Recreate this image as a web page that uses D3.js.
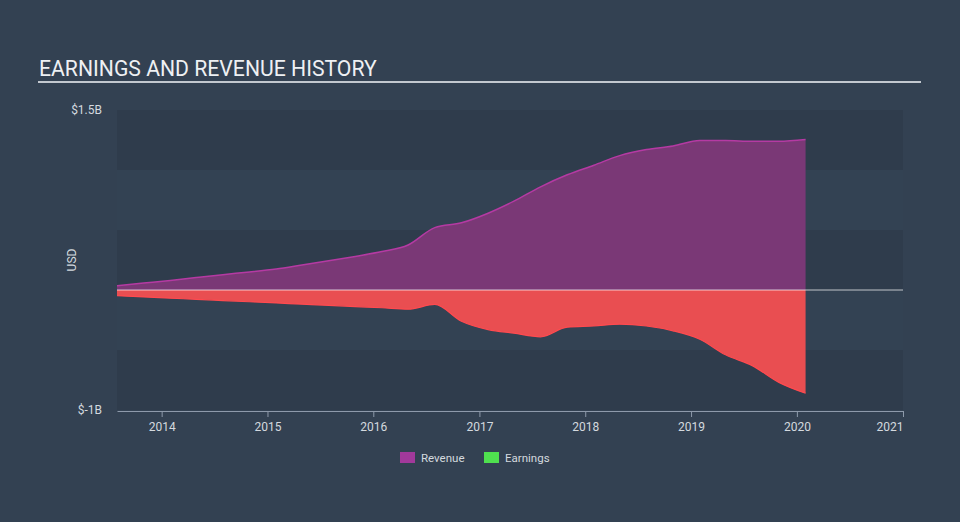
<!DOCTYPE html>
<html><head><meta charset="utf-8">
<script src="https://cdn.jsdelivr.net/npm/d3@7"></script>
<style>
html,body{margin:0;padding:0;background:#334152;}
svg{display:block;font-family:Roboto,"Open Sans",sans-serif;}
</style></head><body>
<svg id="c" width="960" height="522"></svg>
<script>
const dates = ["2013-07-31","2013-10-31","2014-01-31","2014-04-30","2014-07-31","2014-10-31",
"2015-01-31","2015-04-30","2015-07-31","2015-10-31","2016-01-31","2016-04-30","2016-07-31",
"2016-10-31","2017-01-31","2017-04-30","2017-07-31","2017-10-31","2018-01-31","2018-04-30",
"2018-07-31","2018-10-31","2019-01-31","2019-04-30","2019-07-31","2019-10-31","2020-01-31"];
const revenue = [0.036,0.058,0.08,0.104,0.128,0.15,0.175,0.208,0.243,0.28,0.32,0.375,0.52,
0.56,0.64,0.74,0.86,0.96,1.04,1.12,1.17,1.20,1.245,1.245,1.24,1.24,1.255];
const earnings = [-0.047,-0.058,-0.068,-0.078,-0.088,-0.098,-0.108,-0.118,-0.128,-0.138,-0.148,
-0.16,-0.12,-0.26,-0.33,-0.36,-0.39,-0.31,-0.30,-0.285,-0.30,-0.34,-0.41,-0.54,-0.63,-0.77,-0.86];
const yTicks = [{v:1.5,l:"$1.5B"},{v:-1,l:"$-1B"}];
const bandEdges = [1.5,1.0,0.5,0,-0.5,-1.0];
const xTickYears = [2014,2015,2016,2017,2018,2019,2020,2021];

const parse = d3.timeParse("%Y-%m-%d");
const data = dates.map((d,i)=>({date:parse(d),rev:revenue[i],earn:earnings[i]}));

const svg = d3.select("#c");
const x = d3.scaleTime().domain([parse("2013-07-31"),parse("2021-01-01")]).range([117,903]);
const y = d3.scaleLinear().domain([-1,1.5]).range([410,110]);

// title
svg.append("text").attr("x",39).attr("y",76).attr("fill","#eef0f3")
  .attr("font-size",21.2).text("EARNINGS AND REVENUE HISTORY");
svg.append("rect").attr("x",38).attr("y",81).attr("width",883).attr("height",2).attr("fill","#c3c8cf");

// bands
for(let i=0;i<bandEdges.length-1;i++){
  svg.append("rect").attr("x",117).attr("width",786)
    .attr("y",y(bandEdges[i])).attr("height",y(bandEdges[i+1])-y(bandEdges[i]))
    .attr("fill", i%2===0 ? "#2f3c4c" : "#334253");
}

const curve = d3.curveMonotoneX;
const areaRev = d3.area().x(d=>x(d.date)).y0(y(0)).y1(d=>y(d.rev)).curve(curve);
const lineRev = d3.line().x(d=>x(d.date)).y(d=>y(d.rev)).curve(curve);
const areaEarn = d3.area().x(d=>x(d.date)).y0(y(0)).y1(d=>y(d.earn)).curve(curve);
const lineEarn = d3.line().x(d=>x(d.date)).y(d=>y(d.earn)).curve(curve);

svg.append("path").datum(data).attr("d",areaRev).attr("fill","#7a3876");
svg.append("path").datum(data).attr("d",lineRev).attr("fill","none").attr("stroke","#b53aa3").attr("stroke-width",1.5);
svg.append("path").datum(data).attr("d",areaEarn).attr("fill","#e94e51");
svg.append("path").datum(data).attr("d",lineEarn).attr("fill","none").attr("stroke","#ff4a4f").attr("stroke-width",1.2);

// zero line
svg.append("line").attr("x1",117).attr("x2",903).attr("y1",y(0)).attr("y2",y(0))
  .attr("stroke","#ffffff").attr("stroke-opacity",0.7).attr("stroke-width",1);

// y labels
yTicks.forEach(t=>{
  svg.append("text").attr("x",102).attr("y",y(t.v)+4).attr("text-anchor","end")
    .attr("fill","#d4d9df").attr("font-size",12).text(t.l);
});
svg.append("text").attr("transform","translate(76,260) rotate(-90)").attr("text-anchor","middle")
  .attr("fill","#d4d9df").attr("font-size",12).text("USD");

// x axis
const xAxis = d3.axisBottom(x).tickValues(xTickYears.map(yr=>new Date(yr,0,1)))
  .tickFormat(d3.timeFormat("%Y")).tickSize(6).tickSizeOuter(0);
const gx = svg.append("g").attr("transform","translate(0,411)").call(xAxis);
gx.select(".domain").attr("stroke","#8e9aab");
gx.selectAll(".tick line").attr("stroke","#8e9aab");
gx.selectAll(".tick text").attr("fill","#d4d9df").attr("font-size",12)
  .attr("font-family","Roboto,sans-serif").attr("dy","0.9em");
gx.selectAll(".tick text").filter((d,i)=>i===xTickYears.length-1).attr("text-anchor","end");

// legend
const legend = [{l:"Revenue",c:"#a2399b",x:400},{l:"Earnings",c:"#4fe04f",x:484}];
legend.forEach(g=>{
  svg.append("rect").attr("x",g.x).attr("y",452).attr("width",15).attr("height",11).attr("fill",g.c);
  svg.append("text").attr("x",g.x+21).attr("y",462).attr("fill","#d4d9df").attr("font-size",11.5).text(g.l);
});
</script></body></html>
